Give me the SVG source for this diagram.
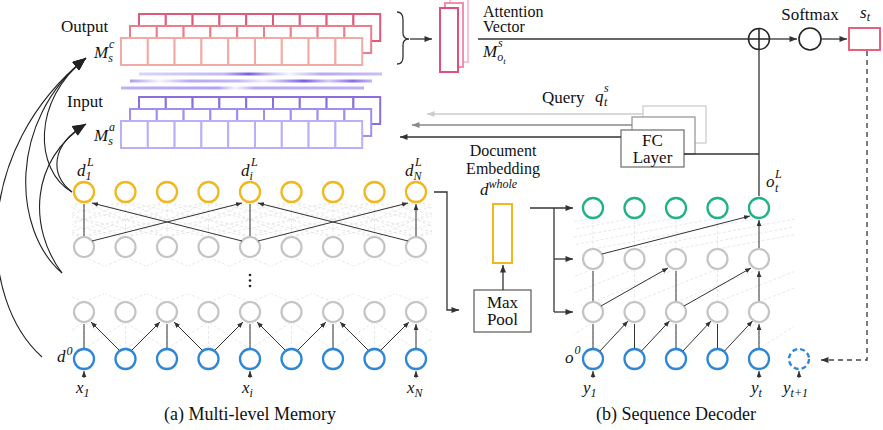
<svg xmlns="http://www.w3.org/2000/svg" width="883" height="430" viewBox="0 0 883 430" font-family="'Liberation Serif', 'Times New Roman', serif">
<style>
text{font-family:"Liberation Serif","Times New Roman",serif;fill:#111}
.t{font-size:17px}
.t16{font-size:16px}
.cap{font-size:18px}
.m{font-style:italic;font-size:17px}
.s{font-size:12px}
.ny{fill:none;stroke:#f2b71c;stroke-width:2.3}
.ng{fill:none;stroke:#c4c4c4;stroke-width:2.2}
.nb{fill:none;stroke:#2e86d6;stroke-width:2.3}
.nn{fill:none;stroke:#21b187;stroke-width:2.3}
.lat{fill:none;stroke:#e2e2e2;stroke-width:0.8;stroke-dasharray:3 2}
.ar{fill:none;stroke:#333;stroke-width:1;marker-end:url(#a1)}
.cn{fill:none;stroke:#333;stroke-width:1.3}
.cv{fill:none;stroke:#222;stroke-width:1.1;marker-end:url(#a3)}
.box{fill:#fff;stroke-width:1.3}
</style>
<defs>
<marker id="a1" viewBox="0 0 10 8" refX="10" refY="4" markerWidth="6" markerHeight="5" markerUnits="userSpaceOnUse" orient="auto"><path d="M0 0L10 4L0 8z" fill="#333"/></marker>
<marker id="a2" viewBox="0 0 10 8" refX="10" refY="4" markerWidth="8" markerHeight="6" markerUnits="userSpaceOnUse" orient="auto"><path d="M0 0L10 4L0 8z" fill="#333"/></marker>
<marker id="a2g" viewBox="0 0 10 8" refX="10" refY="4" markerWidth="8" markerHeight="6" markerUnits="userSpaceOnUse" orient="auto"><path d="M0 0L10 4L0 8z" fill="#888"/></marker>
<marker id="a2l" viewBox="0 0 10 8" refX="10" refY="4" markerWidth="8" markerHeight="6" markerUnits="userSpaceOnUse" orient="auto"><path d="M0 0L10 4L0 8z" fill="#ccc"/></marker>
<marker id="a3" viewBox="0 0 12 10" refX="12" refY="5" markerWidth="14" markerHeight="11" markerUnits="userSpaceOnUse" orient="auto"><path d="M0 0L12 5L0 10z" fill="#222"/></marker>
<g id="cells" fill="#fff" stroke-width="2">
<rect x="0" width="26.8" height="27"/><rect x="26.8" width="26.8" height="27"/><rect x="53.6" width="26.8" height="27"/><rect x="80.4" width="26.8" height="27"/><rect x="107.2" width="26.8" height="27"/><rect x="134" width="26.8" height="27"/><rect x="160.8" width="26.8" height="27"/><rect x="187.6" width="26.8" height="27"/><rect x="214.4" width="26.8" height="27"/>
</g>
<clipPath id="ce"><rect x="72" y="150" width="360" height="220"/></clipPath>
<clipPath id="cd"><rect x="574" y="190" width="220" height="180"/></clipPath>
<linearGradient id="g1" x1="0" x2="1" y1="0" y2="0"><stop offset="0" stop-color="#8a70e8" stop-opacity="0.3"/><stop offset="0.35" stop-color="#8a70e8" stop-opacity="0.5"/><stop offset="0.45" stop-color="#7a5ce6" stop-opacity="1"/><stop offset="0.55" stop-color="#8a70e8" stop-opacity="0.4"/><stop offset="0.62" stop-color="#8a70e8" stop-opacity="0.08"/><stop offset="0.75" stop-color="#8a70e8" stop-opacity="0.6"/><stop offset="1" stop-color="#8a70e8" stop-opacity="0.45"/></linearGradient>
<linearGradient id="g2" x1="0" x2="1" y1="0" y2="0"><stop offset="0" stop-color="#8a70e8" stop-opacity="0.7"/><stop offset="0.12" stop-color="#8a70e8" stop-opacity="0.08"/><stop offset="0.25" stop-color="#8a70e8" stop-opacity="0.6"/><stop offset="0.45" stop-color="#8a70e8" stop-opacity="0.5"/><stop offset="0.55" stop-color="#8a70e8" stop-opacity="0.12"/><stop offset="0.72" stop-color="#7a5ce6" stop-opacity="1"/><stop offset="0.82" stop-color="#8a70e8" stop-opacity="0.35"/><stop offset="0.92" stop-color="#7a5ce6" stop-opacity="0.9"/><stop offset="1" stop-color="#8a70e8" stop-opacity="0.5"/></linearGradient>
<linearGradient id="g3" x1="0" x2="1" y1="0" y2="0"><stop offset="0" stop-color="#8a70e8" stop-opacity="0.55"/><stop offset="0.4" stop-color="#8a70e8" stop-opacity="0.65"/><stop offset="0.47" stop-color="#8a70e8" stop-opacity="0.08"/><stop offset="0.55" stop-color="#8a70e8" stop-opacity="0.6"/><stop offset="1" stop-color="#8a70e8" stop-opacity="0.55"/></linearGradient>
<filter id="bl" x="-5%" y="-100%" width="110%" height="300%"><feGaussianBlur stdDeviation="0.7"/></filter>
</defs>
<rect width="883" height="430" fill="#fff"/>

<!-- memory blocks -->
<g id="output-memory">
<use href="#cells" x="139" y="14" stroke="#e05a78"/>
<use href="#cells" x="130" y="26" stroke="#eb7d8c"/>
<use href="#cells" x="121" y="38" stroke="#f2aaa6"/>
<text class="t" x="61" y="32">Output</text>
<text class="m" x="94" y="58">M<tspan class="s" dy="4">s</tspan><tspan class="s" x="109" dy="-14">c</tspan></text>
</g>
<g id="memory-links" filter="url(#bl)">
<rect x="139" y="72.5" width="243" height="3" fill="url(#g1)"/>
<rect x="130" y="79.5" width="242" height="3" fill="url(#g2)"/>
<rect x="121" y="86.5" width="243" height="3" fill="url(#g3)"/>
</g>
<g id="input-memory">
<use href="#cells" x="139" y="97" stroke="#8a6ee0"/>
<use href="#cells" x="130" y="109" stroke="#a08ef0"/>
<use href="#cells" x="121" y="121" stroke="#b8b0f8"/>
<text class="t" x="67" y="107">Input</text>
<text class="m" x="94" y="141">M<tspan class="s" dy="4">s</tspan><tspan class="s" x="109" dy="-14">a</tspan></text>
</g>

<!-- lattices -->
<g id="lattice" class="lat">
<g clip-path="url(#ce)">
<path d="M84 237V202M125.5 237V202M167 237V202M208.5 237V202M250 237V202M291.5 237V202M333 237V202M374.5 237V202M416 237V202"/>
<path d="M-82 237L84 202M-40.5 237L125.5 202M1 237L167 202M42.5 237L208.5 202M84 237L250 202M125.5 237L291.5 202M167 237L333 202M208.5 237L374.5 202M250 237L416 202M291.5 237L457.5 202M333 237L499 202M374.5 237L540.5 202M416 237L582 202"/>
<path d="M84 237L-82 202M125.5 237L-40.5 202M167 237L1 202M208.5 237L42.5 202M250 237L84 202M291.5 237L125.5 202M333 237L167 202M374.5 237L208.5 202M416 237L250 202M457.5 237L291.5 202M499 237L333 202M540.5 237L374.5 202M582 237L416 202"/>
<path d="M1 237L84 202M42.5 237L125.5 202M84 237L167 202M125.5 237L208.5 202M167 237L250 202M208.5 237L291.5 202M250 237L333 202M291.5 237L374.5 202M333 237L416 202M374.5 237L457.5 202M416 237L499 202"/>
<path d="M84 237L1 202M125.5 237L42.5 202M167 237L84 202M208.5 237L125.5 202M250 237L167 202M291.5 237L208.5 202M333 237L250 202M374.5 237L291.5 202M416 237L333 202M457.5 237L374.5 202M499 237L416 202"/>
<path d="M84 257L104 266M125.5 257L105.5 266M125.5 257L145.5 266M167 257L147 266M167 257L187 266M208.5 257L188.5 266M208.5 257L228.5 266M250 257L230 266M250 257L270 266M291.5 257L271.5 266M291.5 257L311.5 266M333 257L313 266M333 257L353 266M374.5 257L354.5 266M374.5 257L394.5 266M416 257L396 266M416 257L430 264"/>
<path d="M84 302L104 294M125.5 302L105.5 294M125.5 302L145.5 294M167 302L147 294M167 302L187 294M208.5 302L188.5 294M208.5 302L228.5 294M250 302L230 294M250 302L270 294M291.5 302L271.5 294M291.5 302L311.5 294M333 302L313 294M333 302L353 294M374.5 302L354.5 294M374.5 302L394.5 294M416 302L396 294M84 302L72 297M416 302L430 296"/>
<path d="M84 349V322M125.5 349V322M167 349V322M208.5 349V322M250 349V322M291.5 349V322M333 349V322M374.5 349V322M416 349V322"/>
<path d="M42.5 349L84 322M84 349L125.5 322M125.5 349L167 322M167 349L208.5 322M208.5 349L250 322M250 349L291.5 322M291.5 349L333 322M333 349L374.5 322M374.5 349L416 322M416 349L457.5 322"/>
<path d="M125.5 349L84 322M167 349L125.5 322M208.5 349L167 322M250 349L208.5 322M291.5 349L250 322M333 349L291.5 322M374.5 349L333 322M416 349L374.5 322M457.5 349L416 322"/>
</g>
<g clip-path="url(#cd)">
<path d="M593 349V322M634.5 349V322M676 349V322M717.5 349V322M759 349V322"/>
<path d="M551.5 349L593 322M593 349L634.5 322M634.5 349L676 322M676 349L717.5 322M717.5 349L759 322M759 349L800.5 322"/>
<path d="M593 302V269M634.5 302V269M676 302V269M717.5 302V269M759 302V269"/>
<path d="M510 302L593 269M551.5 302L634.5 269M593 302L676 269M634.5 302L717.5 269M676 302L759 269M717.5 302L800.5 269M759 302L842 269"/>
<path d="M593 249V218M634.5 249V218M676 249V218M717.5 249V218M759 249V218"/>
<path d="M427 249L593 218M468.5 249L634.5 218M510 249L676 218M551.5 249L717.5 218M593 249L759 218M634.5 249L800.5 218M676 249L842 218M717.5 249L883.5 218"/>
</g>
</g>

<!-- encoder nodes -->
<g id="encoder-top">
<circle class="ny" cx="84" cy="192" r="10"/><circle class="ny" cx="125.5" cy="192" r="10"/><circle class="ny" cx="167" cy="192" r="10"/><circle class="ny" cx="208.5" cy="192" r="10"/><circle class="ny" cx="250" cy="192" r="10"/><circle class="ny" cx="291.5" cy="192" r="10"/><circle class="ny" cx="333" cy="192" r="10"/><circle class="ny" cx="374.5" cy="192" r="10"/><circle class="ny" cx="416" cy="192" r="10"/>
<text class="m" x="77" y="176">d<tspan class="s" dy="4">1</tspan><tspan class="s" x="87" dy="-14">L</tspan></text>
<text class="m" x="241" y="176">d<tspan class="s" dy="4">i</tspan><tspan class="s" x="251" dy="-14">L</tspan></text>
<text class="m" x="405" y="176">d<tspan class="s" dy="4">N</tspan><tspan class="s" x="415" dy="-14">L</tspan></text>
</g>
<g id="encoder-hidden-top">
<circle class="ng" cx="84" cy="247" r="10"/><circle class="ng" cx="125.5" cy="247" r="10"/><circle class="ng" cx="167" cy="247" r="10"/><circle class="ng" cx="208.5" cy="247" r="10"/><circle class="ng" cx="250" cy="247" r="10"/><circle class="ng" cx="291.5" cy="247" r="10"/><circle class="ng" cx="333" cy="247" r="10"/><circle class="ng" cx="374.5" cy="247" r="10"/><circle class="ng" cx="416" cy="247" r="10"/>
</g>
<g id="encoder-dots" fill="#222">
<circle cx="250" cy="275" r="1.3"/><circle cx="250" cy="280.5" r="1.3"/><circle cx="250" cy="286" r="1.3"/>
</g>
<g id="encoder-hidden-low">
<circle class="ng" cx="84" cy="312" r="10"/><circle class="ng" cx="125.5" cy="312" r="10"/><circle class="ng" cx="167" cy="312" r="10"/><circle class="ng" cx="208.5" cy="312" r="10"/><circle class="ng" cx="250" cy="312" r="10"/><circle class="ng" cx="291.5" cy="312" r="10"/><circle class="ng" cx="333" cy="312" r="10"/><circle class="ng" cx="374.5" cy="312" r="10"/><circle class="ng" cx="416" cy="312" r="10"/>
</g>
<g id="encoder-input">
<circle class="nb" cx="84" cy="359" r="10"/><circle class="nb" cx="125.5" cy="359" r="10"/><circle class="nb" cx="167" cy="359" r="10"/><circle class="nb" cx="208.5" cy="359" r="10"/><circle class="nb" cx="250" cy="359" r="10"/><circle class="nb" cx="291.5" cy="359" r="10"/><circle class="nb" cx="333" cy="359" r="10"/><circle class="nb" cx="374.5" cy="359" r="10"/><circle class="nb" cx="416" cy="359" r="10"/>
<text class="m" x="57" y="362">d<tspan class="s" dx="1" dy="-7">0</tspan></text>
<text class="m" x="76" y="393">x<tspan class="s" dy="4">1</tspan></text>
<text class="m" x="242" y="393">x<tspan class="s" dy="4">i</tspan></text>
<text class="m" x="407" y="393">x<tspan class="s" dy="4">N</tspan></text>
<text class="cap" x="250" y="420" text-anchor="middle">(a) Multi-level Memory</text>
</g>

<!-- decoder nodes -->
<g id="decoder-top">
<circle class="nn" cx="593" cy="208" r="10"/><circle class="nn" cx="634.5" cy="208" r="10"/><circle class="nn" cx="676" cy="208" r="10"/><circle class="nn" cx="717.5" cy="208" r="10"/><circle class="nn" cx="759" cy="208" r="10"/>
<text class="m" x="766" y="187">o<tspan class="s" x="775" dy="5">t</tspan><tspan class="s" x="775" dy="-14">L</tspan></text>
</g>
<g id="decoder-hidden-top">
<circle class="ng" cx="593" cy="259" r="10"/><circle class="ng" cx="634.5" cy="259" r="10"/><circle class="ng" cx="676" cy="259" r="10"/><circle class="ng" cx="717.5" cy="259" r="10"/><circle class="ng" cx="759" cy="259" r="10"/>
</g>
<g id="decoder-hidden-low">
<circle class="ng" cx="593" cy="312" r="10"/><circle class="ng" cx="634.5" cy="312" r="10"/><circle class="ng" cx="676" cy="312" r="10"/><circle class="ng" cx="717.5" cy="312" r="10"/><circle class="ng" cx="759" cy="312" r="10"/>
</g>
<g id="decoder-input">
<circle class="nb" cx="593" cy="359" r="10"/><circle class="nb" cx="634.5" cy="359" r="10"/><circle class="nb" cx="676" cy="359" r="10"/><circle class="nb" cx="717.5" cy="359" r="10"/><circle class="nb" cx="759" cy="359" r="10"/>
<circle class="nb" cx="799" cy="359" r="10" stroke-dasharray="5 3"/>
<text class="m" x="565" y="363">o<tspan class="s" dx="1" dy="-9">0</tspan></text>
<text class="m" x="583" y="393">y<tspan class="s" dy="4">1</tspan></text>
<text class="m" x="751" y="393">y<tspan class="s" dy="4">t</tspan></text>
<text class="m" x="783" y="393">y<tspan class="s" dy="4">t+1</tspan></text>
<text class="cap" x="676" y="420" text-anchor="middle">(b)  Sequence Decoder</text>
</g>

<!-- other nodes -->
<g id="attention-vector">
<rect x="450" y="-2" width="18" height="64" fill="#fff" stroke="#f8c4d4" stroke-width="2"/>
<rect x="445" y="3" width="18" height="64" fill="#fff" stroke="#f090ad" stroke-width="2"/>
<rect x="440" y="8" width="18" height="64" fill="#fff" stroke="#e0507a" stroke-width="2"/>
<text class="t16" x="483" y="17">Attention</text>
<text class="t16" x="483" y="32">Vector</text>
<text class="m" x="483" y="57">M<tspan class="s" dy="4">o</tspan><tspan font-size="9" dy="3">t</tspan><tspan class="s" x="498" dy="-17">s</tspan></text>
</g>
<g id="bracket">
<path class="cn" d="M397 12Q403 12 403 20V33Q403 39 409 39Q403 39 403 45V57Q403 64 397 64"/>
</g>
<g id="sum">
<circle cx="759" cy="39" r="10.5" fill="#fff" stroke="#222" stroke-width="1.5"/>
<path d="M748.5 39H769.5M759 28.5V49.5" stroke="#222" stroke-width="1.5"/>
</g>
<g id="softmax">
<circle cx="810" cy="39" r="11" fill="#fff" stroke="#222" stroke-width="1.6"/>
<text class="t" x="810" y="20" text-anchor="middle">Softmax</text>
</g>
<g id="st">
<rect x="849" y="28" width="31" height="22" fill="#fff" stroke="#e8607a" stroke-width="2"/>
<text class="m" x="860" y="18">s<tspan class="s" dy="3">t</tspan></text>
</g>
<g id="fc-layer">
<rect class="box" x="643" y="106" width="63" height="37" stroke="#ccc"/>
<rect class="box" x="632" y="117" width="63" height="37" stroke="#999"/>
<rect class="box" x="621" y="130" width="63" height="37" stroke="#777"/>
<text class="t" x="652.5" y="146" text-anchor="middle">FC</text>
<text class="t" x="652.5" y="163" text-anchor="middle">Layer</text>
</g>
<g id="query-label">
<text class="t" x="542" y="103">Query</text>
<text class="m" x="595" y="102">q<tspan class="s" x="604" dy="4">t</tspan><tspan class="s" x="604" dy="-14">s</tspan></text>
</g>
<g id="doc-embedding">
<rect x="493" y="204" width="19" height="59" fill="#fff" stroke="#f2b71c" stroke-width="2"/>
<text class="t16" x="503" y="156" text-anchor="middle">Document</text>
<text class="t16" x="503" y="174" text-anchor="middle">Embedding</text>
<text class="m" x="480" y="195">d<tspan class="s" dy="-7">whole</tspan></text>
</g>
<g id="max-pool">
<rect class="box" x="474" y="290" width="57" height="42" stroke="#666"/>
<text class="t" x="502.5" y="308" text-anchor="middle">Max</text>
<text class="t" x="502.5" y="325" text-anchor="middle">Pool</text>
</g>

<!-- connectors -->
<g id="connectors">
<path class="ar" d="M84 236V204M250 236V204M416 236V204"/>
<path class="ar" d="M92 241L242 203"/>
<path class="ar" d="M242 241L92 203"/>
<path class="ar" d="M258 241L408 203"/>
<path class="ar" d="M408 241L258 203"/>
<path class="ar" d="M84 348V324M167 348V324M250 348V324M333 348V324M416 348V324"/>
<path class="ar" d="M119 350L91 322"/><path class="ar" d="M132 350L160 322"/>
<path class="ar" d="M202 350L174 322"/><path class="ar" d="M215 350L243 322"/>
<path class="ar" d="M285 350L257 322"/><path class="ar" d="M298 350L326 322"/>
<path class="ar" d="M368 350L340 322"/><path class="ar" d="M381 350L409 322"/>
<path class="ar" d="M84 378V371"/><path class="ar" d="M250 378V371"/><path class="ar" d="M416 378V371"/>
<path class="ar" d="M593 378V371"/><path class="ar" d="M759 378V371"/><path class="ar" d="M799 378V371"/>
<path class="ar" d="M593 348V324M634.5 348V324M676 348V324M717.5 348V324M759 348V324"/>
<path class="ar" d="M600 351L628 321"/><path class="ar" d="M641.5 351L669.5 321"/><path class="ar" d="M683 351L711 321"/><path class="ar" d="M724.5 351L752.5 321"/>
<path class="ar" d="M593 301V271M676 301V271M759 301V271"/>
<path class="ar" d="M601 306L668 268"/><path class="ar" d="M684 306L751 268"/>
<path class="ar" d="M759 248V220"/>
<path class="ar" d="M602 254L750 216"/>
<path class="cv" d="M42 357C-22 300-28 150 86 58"/>
<path class="cv" d="M62 273C12 230 8 120 86 58"/>
<path class="cv" d="M72 192C34 170 32 100 86 58"/>
<path class="cv" d="M62 273C28 228 30 160 86 124"/>
<path class="cv" d="M72 192C50 175 50 145 86 124"/>
<path class="cn" d="M434 192H447V310H459" marker-end="url(#a2)"/>
<path class="cn" d="M503 290V265" marker-end="url(#a2)"/>
<path class="cn" d="M530 208H573" marker-end="url(#a2)"/>
<path class="cn" d="M554 208V312"/>
<path class="cn" d="M554 259H573" marker-end="url(#a2)"/>
<path class="cn" d="M554 312H573" marker-end="url(#a2)"/>
<path class="cn" d="M410 39H432" marker-end="url(#a2)"/>
<path class="cn" d="M478 39H748.5"/>
<path class="cn" d="M759 196V49.5"/>
<path class="cn" d="M684 154H759"/>
<path class="cn" d="M769.5 39H797" marker-end="url(#a2)"/>
<path class="cn" d="M821 39H847" marker-end="url(#a2)"/>
<path d="M621 137H400" fill="none" stroke="#333" stroke-width="1.3" marker-end="url(#a2)"/>
<path d="M632 125H412" fill="none" stroke="#888" stroke-width="1.3" marker-end="url(#a2g)"/>
<path d="M643 114H427" fill="none" stroke="#ccc" stroke-width="1.3" marker-end="url(#a2l)"/>
<path d="M867 51V360H821" fill="none" stroke="#444" stroke-width="1.4" stroke-dasharray="5 4" marker-end="url(#a2)"/>
</g>
</svg>
